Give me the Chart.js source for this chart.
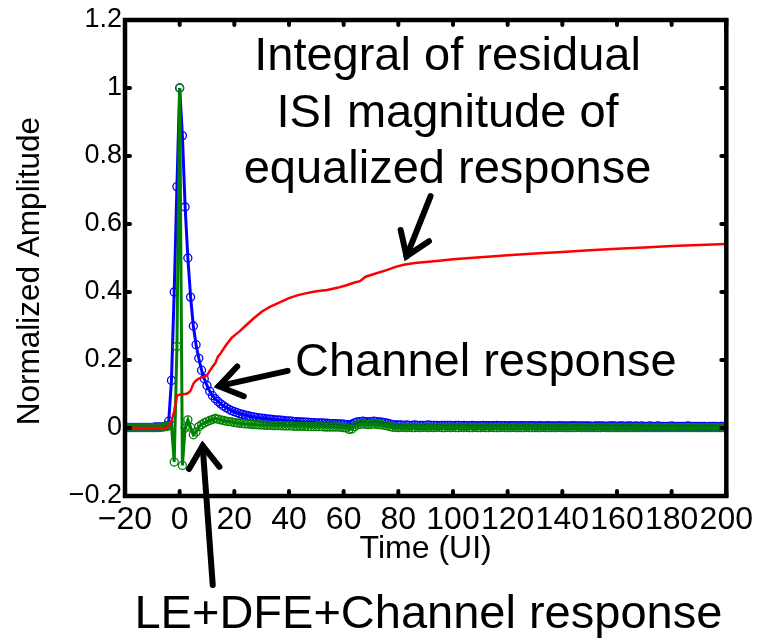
<!DOCTYPE html>
<html>
<head>
<meta charset="utf-8">
<script src="https://cdn.jsdelivr.net/npm/chart.js@4/dist/chart.umd.min.js"></script>
<style>
  html, body { margin: 0; padding: 0; background: #fff; }
  #wrap { width: 758px; height: 640px; }
</style>
</head>
<body>
<div id="wrap"><canvas id="c" width="758" height="640"></canvas></div>
<script>
// Sample index in unit intervals (UI), one sample per UI
const timeStart = -20, timeEnd = 200;

// Channel pulse response (blue), t = -20 .. 200
const channelResponse = [
  // -20 .. -5
  0.002,0.002,0.002,0.002,0.002,0.002,0.002,0.002,0.002,0.002,0.002,0.003,0.003,0.003,0.004,0.006,
  // -4 .. 12
  0.02,0.14,0.40,0.71,1.00,0.86,0.65,0.50,0.385,0.30,0.245,0.205,0.17,0.145,0.125,0.108,0.095,
  // 13 .. 30
  0.086,0.078,0.071,0.065,0.060,0.055,0.051,0.048,0.045,0.042,0.040,0.038,0.036,0.034,0.033,0.031,0.030,0.029,
  // 31 .. 50
  0.028,0.027,0.026,0.025,0.024,0.024,0.023,0.022,0.021,0.021,0.020,0.019,0.019,0.018,0.018,0.017,0.017,0.016,0.016,0.015,
  // 51 .. 63
  0.015,0.015,0.014,0.014,0.013,0.013,0.013,0.012,0.012,0.011,0.010,0.009,0.011,
  // 64 .. 78
  0.015,0.018,0.019,0.020,0.019,0.018,0.019,0.020,0.019,0.018,0.017,0.016,0.014,0.012,0.010,
  // 79 .. 200
  0.009,0.009,0.009,0.008,0.009,0.008,0.008,0.009,0.008,0.008,
  0.008,0.008,0.009,0.008,0.008,0.008,0.007,0.008,0.008,0.008,
  0.008,0.007,0.008,0.008,0.007,0.008,0.007,0.007,0.008,0.007,
  0.007,0.007,0.008,0.007,0.007,0.007,0.007,0.008,0.007,0.007,
  0.007,0.006,0.007,0.007,0.007,0.006,0.007,0.007,0.006,0.007,
  0.007,0.006,0.006,0.007,0.006,0.006,0.007,0.006,0.006,0.006,
  0.007,0.006,0.006,0.006,0.006,0.007,0.006,0.006,0.006,0.006,
  0.006,0.006,0.005,0.006,0.006,0.006,0.006,0.005,0.006,0.006,
  0.006,0.005,0.006,0.006,0.005,0.006,0.006,0.005,0.006,0.005,
  0.006,0.005,0.005,0.006,0.005,0.005,0.006,0.005,0.005,0.005,
  0.005,0.006,0.005,0.005,0.005,0.005,0.005,0.006,0.005,0.005,
  0.005,0.005,0.005,0.005,0.004,0.005,0.005,0.005,0.004,0.005,
  0.005,0.005
];

// LE+DFE+Channel equalized response (green), t = -20 .. 200
const equalizedResponse = [
  // -20 .. -4
  0.001,0.001,0.001,0.001,0.001,0.001,0.001,0.001,0.001,0.001,0.001,0.001,0.001,0.002,0.003,0.004,0.006,
  // -3 .. 13
  0.008,-0.10,0.24,1.00,-0.11,0.000,0.024,0.002,-0.020,-0.012,0.004,0.010,0.015,0.019,0.022,0.025,0.028,
  // 14 .. 30
  0.026,0.024,0.022,0.020,0.019,0.018,0.016,0.015,0.014,0.013,0.012,0.012,0.011,0.010,0.010,0.009,0.009,
  // 31 .. 61
  0.008,0.008,0.008,0.007,0.007,0.007,0.007,0.006,0.006,0.006,
  0.006,0.005,0.005,0.005,0.005,0.005,0.004,0.004,0.004,0.004,
  0.004,0.004,0.003,0.003,0.003,0.003,0.003,0.003,0.002,0.001,
  0.000,
  // 62 .. 78
  -0.004,-0.003,0.004,0.009,0.011,0.012,0.011,0.010,0.011,0.012,0.011,0.010,0.009,0.008,0.006,0.004,0.002,
  // 79 .. 200
  0.002,0.001,0.002,0.002,0.001,0.002,0.001,0.001,0.002,0.001,
  0.002,0.002,0.001,0.002,0.001,0.002,0.002,0.001,0.001,0.002,
  0.001,0.002,0.001,0.001,0.002,0.001,0.002,0.001,0.001,0.002,
  0.001,0.001,0.002,0.001,0.001,0.002,0.001,0.001,0.001,0.002,
  0.001,0.001,0.001,0.002,0.001,0.001,0.001,0.001,0.002,0.001,
  0.001,0.001,0.001,0.001,0.002,0.001,0.001,0.001,0.001,0.001,
  0.002,0.001,0.001,0.001,0.001,0.001,0.001,0.002,0.001,0.001,
  0.001,0.001,0.001,0.001,0.001,0.001,0.002,0.001,0.001,0.001,
  0.001,0.001,0.001,0.001,0.001,0.001,0.001,0.001,0.001,0.001,
  0.001,0.001,0.001,0.001,0.001,0.001,0.001,0.001,0.001,0.001,
  0.001,0.001,0.001,0.001,0.001,0.001,0.001,0.001,0.001,0.001,
  0.001,0.001,0.001,0.001,0.001,0.001,0.001,0.001,0.001,0.001,
  0.001,0.001
];

// Running integral of residual ISI magnitude (red)
const integralTime = [-20,-5,-4,-3,-2,-1,0,1,2,3,4,5,6,7,8,9,10,11,12,13,14,15,
  17,19,22,24,27,30,33,36,40,43,46,50,54,58,61,
  64,66,68,70,72,76,79,82,86,90,95,100,110,120,130,140,150,160,170,180,190,200];
const integralValue = [0,0,0.005,0.02,0.05,0.095,0.098,0.099,0.100,0.102,0.110,0.130,0.140,0.145,0.148,0.151,0.155,0.168,0.180,0.190,0.210,0.220,
  0.244,0.265,0.285,0.300,0.322,0.342,0.356,0.367,0.382,0.390,0.396,0.402,0.406,0.413,0.420,
  0.428,0.432,0.445,0.450,0.455,0.465,0.474,0.480,0.485,0.488,0.492,0.496,0.502,0.508,0.513,0.518,0.523,0.527,0.531,0.535,0.538,0.541];

// Axis ranges and text
const xMin = -20, xMax = 200, xStep = 20;
const yMin = -0.2, yMax = 1.2, yStep = 0.2;
const xTitle = 'Time (UI)';
const yTitle = 'Normalized Amplitude\u00a0\u00a0\u00a0';

const FONT = "'Liberation Sans', Arial, Helvetica, sans-serif";
const MINUS = '\u2212';

function sampled(values) {
  const pts = [];
  for (let i = 0; i < values.length; i++) pts.push({ x: timeStart + i, y: values[i] });
  return pts;
}
function paired(xs, ys) {
  return xs.map((x, i) => ({ x, y: ys[i] }));
}
function fmt(v) {
  const r = Math.round(v * 10) / 10;
  return r < 0 ? MINUS + String(Math.abs(r)) : String(r);
}

// Callouts, placed in data coordinates
const callouts = {
  texts: [
    { x: 98, y: 1.054, text: 'Integral of residual' },
    { x: 98, y: 0.885, text: 'ISI magnitude of' },
    { x: 98, y: 0.720, text: 'equalized response' },
    { x: 112, y: 0.154, text: 'Channel response' },
    { x: 91,  y: -0.588, text: 'LE+DFE+Channel response' }
  ],
  arrows: [
    { from: [91.8, 0.682], to: [83.0, 0.505] },
    { from: [39.5, 0.168], to: [14.3, 0.123] },
    { from: [12.1, -0.462], to: [8.4, -0.052] }
  ]
};

const calloutPlugin = {
  id: 'callouts',
  afterDraw(chart) {
    const { ctx, scales: { x, y } } = chart;
    ctx.save();
    ctx.fillStyle = '#000';
    ctx.font = '47px ' + FONT;
    ctx.textAlign = 'center';
    ctx.textBaseline = 'alphabetic';
    callouts.texts.forEach(t => {
      ctx.fillText(t.text, x.getPixelForValue(t.x), y.getPixelForValue(t.y));
    });
    ctx.strokeStyle = '#000';
    ctx.lineWidth = 6;
    ctx.lineCap = 'round';
    ctx.lineJoin = 'miter';
    callouts.arrows.forEach(a => {
      const x0 = x.getPixelForValue(a.from[0]), y0 = y.getPixelForValue(a.from[1]);
      const x1 = x.getPixelForValue(a.to[0]), y1 = y.getPixelForValue(a.to[1]);
      ctx.beginPath(); ctx.moveTo(x0, y0); ctx.lineTo(x1, y1); ctx.stroke();
      const ang = Math.atan2(y1 - y0, x1 - x0), L = 27, spread = 0.6;
      ctx.beginPath();
      ctx.moveTo(x1 - L * Math.cos(ang - spread), y1 - L * Math.sin(ang - spread));
      ctx.lineTo(x1, y1);
      ctx.lineTo(x1 - L * Math.cos(ang + spread), y1 - L * Math.sin(ang + spread));
      ctx.stroke();
    });
    ctx.restore();
  }
};

// Boxed axes with inward tick marks on all four sides
const framePlugin = {
  id: 'frame',
  afterDatasetsDraw(chart) {
    const { ctx, chartArea: a, scales: { x, y } } = chart;
    ctx.save();
    ctx.strokeStyle = '#000';
    ctx.lineWidth = 4.5;
    ctx.lineJoin = 'miter';
    ctx.strokeRect(a.left, a.top, a.right - a.left, a.bottom - a.top);
    ctx.lineWidth = 4;
    ctx.lineCap = 'round';
    const len = 5;
    const seg = (x0, y0, x1, y1) => { ctx.beginPath(); ctx.moveTo(x0, y0); ctx.lineTo(x1, y1); ctx.stroke(); };
    x.ticks.forEach(t => {
      const px = x.getPixelForValue(t.value);
      seg(px, a.bottom, px, a.bottom - len);
      seg(px, a.top, px, a.top + len);
    });
    y.ticks.forEach(t => {
      const py = y.getPixelForValue(t.value);
      seg(a.left, py, a.left + len, py);
      seg(a.right, py, a.right - len, py);
    });
    ctx.restore();
  }
};

const marker = { pointStyle: 'circle', pointRadius: 4, pointBorderWidth: 1.3, pointBackgroundColor: 'rgba(0,0,0,0)', pointHoverRadius: 0 };

new Chart(document.getElementById('c'), {
  type: 'line',
  data: {
    datasets: [
      {
        label: 'Integral of residual ISI magnitude of equalized response',
        data: paired(integralTime, integralValue),
        borderColor: '#ff0000', borderWidth: 2.5, pointRadius: 0, tension: 0
      },
      Object.assign({
        label: 'LE+DFE+Channel response',
        data: sampled(equalizedResponse),
        borderColor: '#008000', pointBorderColor: '#008000', borderWidth: 3, tension: 0
      }, marker),
      Object.assign({
        label: 'Channel response',
        data: sampled(channelResponse),
        borderColor: '#0000ff', pointBorderColor: '#0000ff', borderWidth: 3, tension: 0
      }, marker)
    ]
  },
  options: {
    responsive: false,
    animation: false,
    events: [],
    layout: { padding: { top: 20, right: 30, left: 0, bottom: 0 } },
    plugins: { legend: { display: false }, tooltip: { enabled: false } },
    scales: {
      x: {
        type: 'linear', min: xMin, max: xMax,
        grid: { display: false, drawTicks: false },
        border: { display: false },
        ticks: {
          stepSize: xStep, autoSkip: false, maxRotation: 0, minRotation: 0,
          color: '#000', padding: 5, font: { family: FONT, size: 32 },
          callback: v => fmt(v)
        },
        title: { display: true, text: xTitle, color: '#000', font: { family: FONT, size: 32 }, padding: { top: 0, bottom: 72 } },
        afterFit: s => { s.height = 144; }
      },
      y: {
        type: 'linear', min: yMin, max: yMax,
        grid: { display: false, drawTicks: false },
        border: { display: false },
        ticks: {
          stepSize: yStep, autoSkip: false,
          color: '#000', padding: 3, font: { family: FONT, size: 27 },
          callback: v => fmt(v)
        },
        title: { display: true, text: yTitle, color: '#000', font: { family: FONT, size: 31.5 }, padding: { top: 11, bottom: 0 } },
        afterFit: s => { s.width = 125; }
      }
    }
  },
  plugins: [framePlugin, calloutPlugin]
});
</script>
</body>
</html>
